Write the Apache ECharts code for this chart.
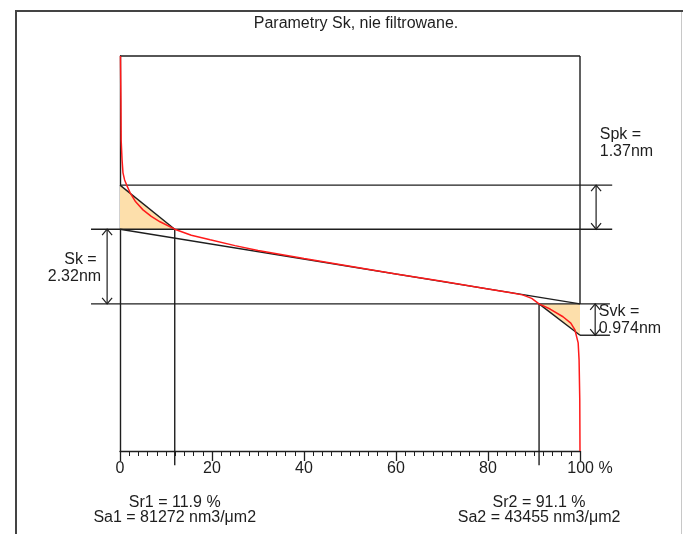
<!DOCTYPE html>
<html lang="pl">
<head>
    <meta charset="utf-8">
    <title>Parametry Sk</title>
    <script src="https://cdn.jsdelivr.net/npm/echarts@6/dist/echarts.min.js"></script>
    <style>
        html, body { margin: 0; padding: 0; background: #fff; }
        #chart { width: 683px; height: 534px; }
    </style>
</head>
<body>
    <div id="chart"></div>
    <script>
        // material ratio curve: x = material ratio (%), y = height (nm), 0 = bottom of core
        var ratio  = [0.1, 0.2, 0.25, 0.45, 0.65, 1.0, 1.45, 2.2, 3.4, 5.0, 6.8, 8.7, 11.9, 15.5, 19.6, 25, 30, 40, 50, 60, 70, 80, 85, 87.5, 89.5, 91.1, 93.5, 96.3, 98.0, 98.9, 99.6, 99.8, 99.95, 100];
        var height = [7.70, 6.34, 5.09, 4.47, 4.07, 3.85, 3.69, 3.45, 3.17, 2.92, 2.72, 2.55, 2.32, 2.13, 1.99, 1.81, 1.66, 1.41, 1.17, 0.93, 0.70, 0.46, 0.345, 0.28, 0.17, 0, -0.16, -0.40, -0.60, -0.81, -1.21, -1.74, -2.98, -4.57];

        // Sk parameters
        var sk = 2.32, spk = 1.37, svk = 0.974;
        var sr1 = 11.9, sr2 = 91.1;
        var sa1 = 81272, sa2 = 43455;
        var xTicks = [0, 20, 40, 60, 80, 100];

        var yMin = -4.57, yMax = 7.70;
        var peakTop = sk + spk;
        var below = yMin - 0.44;   // vertical Sr lines run a bit below the axis

        var curve = ratio.map(function (r, i) { return [r, height[i]]; });

        var segments = [
            [0, yMax, 100, yMax],
            [100, yMax, 100, 0],
            [0, peakTop, 107, peakTop],
            [-6.3, sk, 107, sk],
            [-6.3, 0, 106.5, 0],
            [100, -svk, 106.5, -svk],
            [sr1, sk, sr1, below],
            [sr2, 0, sr2, below],
            [0, sk, 100, 0],
            [0, peakTop, sr1, sk],
            [sr2, 0, 100, -svk]
        ];
        var triangles = [
            [[0, peakTop], [0, sk], [sr1, sk]],
            [[sr2, 0], [100, 0], [100, -svk]]
        ];
        var arrows = [
            [103.5, peakTop, sk],
            [-2.8, sk, 0],
            [103.3, 0, -svk]
        ];
        var labels = [
            { pos: [104.3, 5.0], text: 'Spk =\n' + spk + 'nm', align: 'left' },
            { pos: [-4.1, 1.12], text: 'Sk = \n' + sk + 'nm', align: 'right' },
            { pos: [104.1, -0.51], text: 'Svk =\n' + svk + 'nm', align: 'left' }
        ];
        var bottomTexts = [
            { x: sr1, text: 'Sr1 = ' + sr1 + ' %\nSa1 = ' + sa1 + ' nm3/μm2' },
            { x: sr2, text: 'Sr2 = ' + sr2 + ' %\nSa2 = ' + sa2 + ' nm3/μm2' }
        ];

        var ink = '#1e1e1e';
        var font = '16px "Liberation Sans", Arial, sans-serif';

        var option = {
            animation: false,
            title: {
                text: 'Parametry Sk, nie filtrowane.',
                left: 351,
                top: 11,
                textAlign: 'center',
                textStyle: { fontFamily: 'Liberation Sans', fontSize: 16, fontWeight: 'normal', color: ink }
            },
            graphic: [
                { type: 'line', shape: { x1: 15, y1: 11, x2: 683, y2: 11 }, style: { stroke: '#444', lineWidth: 2 } },
                { type: 'line', shape: { x1: 16, y1: 11, x2: 16, y2: 534 }, style: { stroke: '#444', lineWidth: 2 } },
                { type: 'line', shape: { x1: 681.5, y1: 12, x2: 681.5, y2: 534 }, style: { stroke: '#c8c8c8', lineWidth: 1 } }
            ],
            grid: { left: 120, right: 103, top: 56, bottom: 83 },
            xAxis: {
                type: 'value', min: 0, max: 100, interval: 20,
                data: xTicks,
                axisLine: { onZero: false, lineStyle: { color: ink, width: 1.3 } },
                axisTick: { length: 10, lineStyle: { color: ink, width: 1.3 } },
                minorTick: { show: true, splitNumber: 10, length: 5, lineStyle: { color: ink } },
                splitLine: { show: false },
                axisLabel: {
                    margin: 10,
                    color: ink, fontFamily: 'Liberation Sans', fontSize: 16,
                    formatter: function (v) { return v === 100 ? '{p|100 %}' : '' + v; },
                    rich: { p: { padding: [0, 0, 0, 20], fontFamily: 'Liberation Sans', fontSize: 16, color: ink } }
                }
            },
            yAxis: {
                type: 'value', min: yMin, max: yMax,
                axisLine: { show: true, onZero: false, lineStyle: { color: ink, width: 1.4 } },
                axisTick: { show: false }, axisLabel: { show: false }, splitLine: { show: false }
            },
            series: [
                {
                    type: 'custom', z: 1, clip: false,
                    data: triangles.map(function (t, i) { return [i]; }),
                    renderItem: function (params, api) {
                        var t = triangles[api.value(0)];
                        return {
                            type: 'polygon',
                            shape: { points: t.map(function (p) { return api.coord(p); }) },
                            style: { fill: '#fddfab', stroke: null }
                        };
                    }
                },
                {
                    type: 'custom', z: 2, clip: false,
                    data: segments,
                    renderItem: function (params, api) {
                        var a = api.coord([api.value(0), api.value(1)]);
                        var b = api.coord([api.value(2), api.value(3)]);
                        return {
                            type: 'line',
                            shape: { x1: a[0], y1: a[1], x2: b[0], y2: b[1] },
                            style: { stroke: ink, lineWidth: 1.4 }
                        };
                    }
                },
                {
                    type: 'custom', z: 2, clip: false,
                    data: arrows,
                    renderItem: function (params, api) {
                        var a = api.coord([api.value(0), api.value(1)]);
                        var b = api.coord([api.value(0), api.value(2)]);
                        var x = a[0], w = 5, h = 6;
                        var st = { stroke: ink, lineWidth: 1.2, fill: null };
                        return {
                            type: 'group',
                            children: [
                                { type: 'line', shape: { x1: x, y1: a[1], x2: x, y2: b[1] }, style: st },
                                { type: 'polyline', shape: { points: [[x - w, a[1] + h], [x, a[1]], [x + w, a[1] + h]] }, style: st },
                                { type: 'polyline', shape: { points: [[x - w, b[1] - h], [x, b[1]], [x + w, b[1] - h]] }, style: st }
                            ]
                        };
                    }
                },
                {
                    type: 'line', z: 3, clip: false,
                    data: curve,
                    showSymbol: false,
                    smooth: false,
                    lineStyle: { color: '#ff1a1a', width: 1.5 }
                },
                {
                    type: 'custom', z: 4, clip: false,
                    data: labels.map(function (l, i) { return [i]; }),
                    renderItem: function (params, api) {
                        var l = labels[api.value(0)];
                        var p = api.coord(l.pos);
                        return {
                            type: 'text',
                            style: {
                                text: l.text, x: p[0], y: p[1],
                                align: l.align, verticalAlign: 'middle',
                                font: font, lineHeight: 17, fill: ink
                            }
                        };
                    }
                },
                {
                    type: 'custom', z: 4, clip: false,
                    data: bottomTexts.map(function (l, i) { return [i]; }),
                    renderItem: function (params, api) {
                        var l = bottomTexts[api.value(0)];
                        var p = api.coord([l.x, yMin]);
                        return {
                            type: 'text',
                            style: {
                                text: l.text, x: p[0], y: p[1] + 59,
                                align: 'center', verticalAlign: 'middle',
                                font: font, lineHeight: 15, fill: ink
                            }
                        };
                    }
                }
            ]
        };

        var chart = echarts.init(document.getElementById('chart'));
        chart.setOption(option);
    </script>
</body>
</html>
